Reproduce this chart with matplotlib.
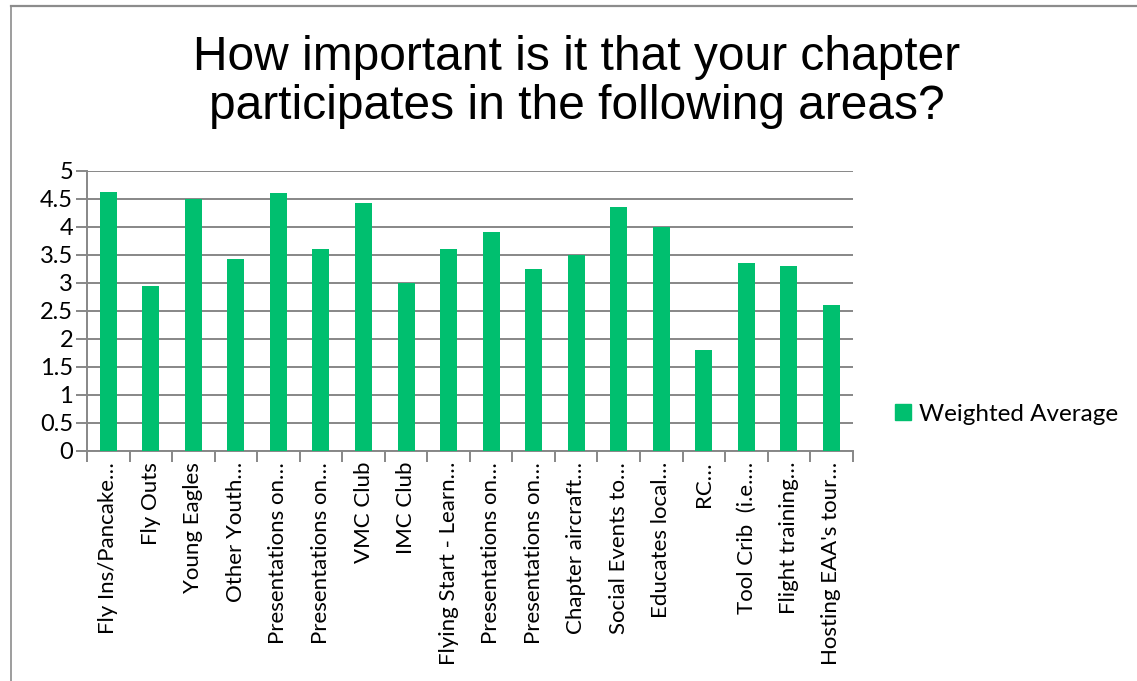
import matplotlib
matplotlib.use("Agg")
import matplotlib.pyplot as plt
from matplotlib.lines import Line2D
import numpy as np

categories = [
    "Fly Ins/Pancake…", "Fly Outs", "Young Eagles", "Other Youth…",
    "Presentations on…", "Presentations on…", "VMC Club", "IMC Club",
    "Flying Start - Learn…", "Presentations on…", "Presentations on…",
    "Chapter aircraft…", "Social Events to…", "Educates local…", "RC…",
    "Tool Crib  (i.e.…", "Flight training…", "Hosting EAA's tour…",
]
weighted_average = [4.62, 2.95, 4.49, 3.42, 4.60, 3.60, 4.42, 3.00, 3.60,
                    3.90, 3.25, 3.50, 4.35, 4.00, 1.80, 3.35, 3.30, 2.60]
y_ticks = [0, 0.5, 1, 1.5, 2, 2.5, 3, 3.5, 4, 4.5, 5]
series_name = "Weighted Average"

bar_color = "#00BF6F"
grid_color = "#878787"
label_font = "Lato"

fig = plt.figure(figsize=(11.37, 6.81), dpi=100)
ax = fig.add_axes([0.0765, 0.3382, 0.6735, 0.4111])

x = np.arange(len(categories))
ax.bar(x, weighted_average, width=0.4, color=bar_color, zorder=3)

ax.set_xlim(-0.5, len(categories) - 0.5)
ax.set_ylim(0, 5)
ax.set_yticks(y_ticks)
ax.set_yticklabels([f"{v:g}" for v in y_ticks], fontfamily=label_font, fontsize=17)
ax.yaxis.grid(True, color=grid_color, linewidth=1.4, zorder=0)

ax.set_xticks(x)
ax.set_xticklabels(categories, rotation=90, fontfamily=label_font, fontsize=16)
ax.set_xticks(np.arange(len(categories) + 1) - 0.5, minor=True)
ax.tick_params(axis="x", which="major", length=0, pad=8)
ax.tick_params(axis="x", which="minor", length=8, width=1.4, color=grid_color)
ax.tick_params(axis="y", length=8, width=1.4, color=grid_color, pad=2)

for side in ["top", "right"]:
    ax.spines[side].set_visible(False)
for side in ["left", "bottom"]:
    ax.spines[side].set_color(grid_color)
    ax.spines[side].set_linewidth(1.4)

fig.text(0.507, 0.879, "How important is it that your chapter\nparticipates in the following areas?",
         ha="center", va="center", fontfamily="Liberation Sans", fontsize=34.5,
         linespacing=1.11)

handle = Line2D([], [], marker="s", linestyle="none", markersize=11,
                markerfacecolor=bar_color, markeredgecolor=bar_color)
fig.legend([handle], [series_name], loc="center left", bbox_to_anchor=(0.786, 0.392),
           frameon=False, prop={"family": label_font, "size": 17.5},
           handlelength=0.8, handletextpad=0.25, borderaxespad=0, borderpad=0)

# outer frame (top and left edges visible)
fig.add_artist(Line2D([0.0101, 1.0], [0.9912, 0.9912], transform=fig.transFigure,
                      color="#8c8c8c", linewidth=1.6))
fig.add_artist(Line2D([0.0101, 0.0101], [0.0, 0.9912], transform=fig.transFigure,
                      color="#8c8c8c", linewidth=1.2))

fig.savefig("out.png", dpi=100)
